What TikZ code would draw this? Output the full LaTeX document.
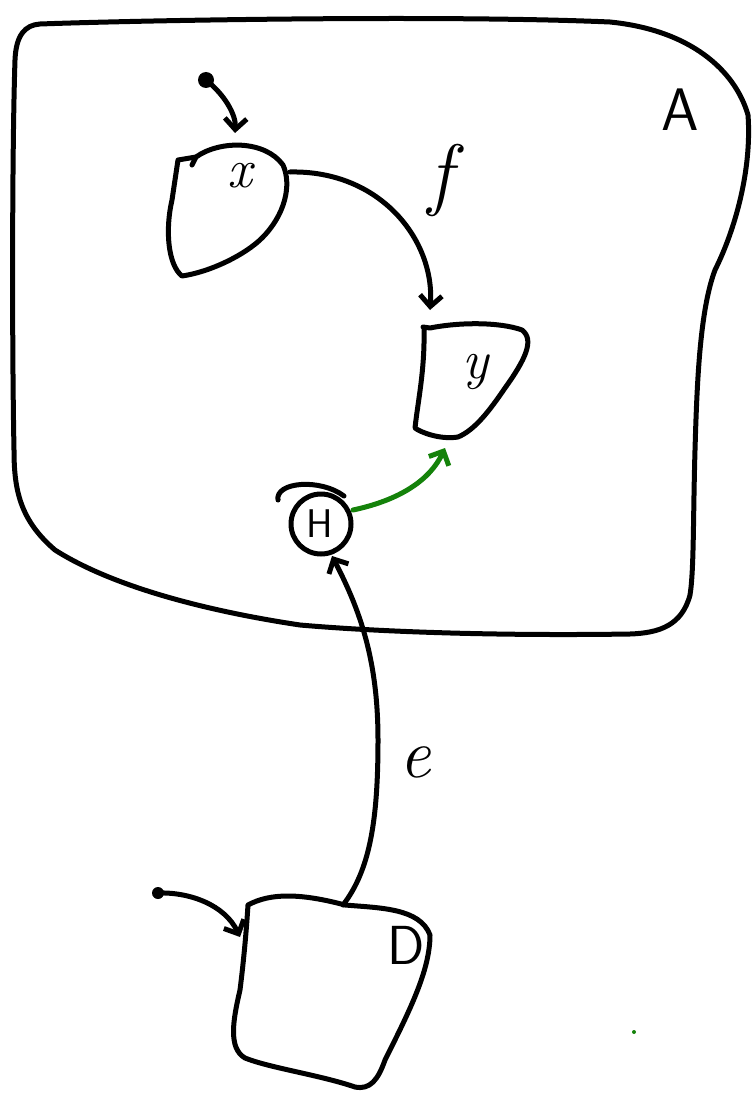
\documentclass[tikz,border=0pt]{standalone}
\usetikzlibrary{arrows.meta}
\definecolor{pengreen}{RGB}{20,130,10}
\begin{document}
\begin{tikzpicture}[x=1pt,y=-1pt,
  pen/.style={line width=5pt,line cap=round,line join=round},
  conn/.style={pen,-{Straight Barb[length=11pt,width=22pt,line width=5pt]}},
  lab/.style={inner sep=0pt,font=#1},
  lab/.default=\fontsize{60}{60}\selectfont]
\path[use as bounding box] (0,0) rectangle (754,1097);
% region A
\draw[pen] (40,24) .. controls (150,20) and (450,15) .. (610,22)
  .. controls (690,30) and (735,70) .. (748,115)
  .. controls (752,170) and (735,230) .. (715,270)
  .. controls (700,310) and (697,380) .. (695,450)
  .. controls (693,520) and (694,570) .. (690,595)
  .. controls (682,625) and (660,633) .. (630,634)
  .. controls (500,636) and (380,632) .. (300,625)
  .. controls (200,610) and (110,585) .. (55,550)
  .. controls (20,520) and (14,490) .. (14,450)
  .. controls (12,350) and (12,150) .. (15,60)
  .. controls (16,35) and (25,25) .. (40,24);
\node[lab] (A) at (680,110) {\sffamily A};
% node x
\draw[pen] (178,160) -- (196,157) .. controls (220,140) and (265,140) .. (283,165)
  .. controls (292,185) and (285,215) .. (262,238)
  .. controls (245,255) and (210,272) .. (182,276)
  .. controls (168,265) and (165,230) .. (172,200) -- (178,160);
\draw[pen] (196,157) -- (192,165);
\node[lab=\fontsize{55}{55}\selectfont\itshape] (x) at (240,176) {x};
\coordinate (xin) at (235,133);
\coordinate (xout) at (290,172);
\coordinate (xsrc) at (206,80);
\fill (xsrc) circle (8pt);
% node y
\draw[pen] (423,327) -- (430,328) .. controls (460,322) and (500,322) .. (522,330)
  .. controls (535,340) and (525,360) .. (505,388)
  .. controls (490,410) and (475,430) .. (458,437)
  .. controls (440,440) and (420,432) .. (415,428)
  .. controls (418,400) and (425,370) .. (424,327);
\node[lab=\fontsize{55}{55}\selectfont\itshape] (y) at (476,372) {y};
\coordinate (yin) at (430,310);
\coordinate (yin2) at (445,448);
% H
\draw[pen] (321,524) circle (30pt);
\draw[pen] (278,500) .. controls (275,482) and (320,478) .. (344,496);
\node[lab=\fontsize{40}{40}\selectfont\sffamily] (H) at (320,524) {H};
\coordinate (Hout) at (353,510);
\coordinate (Hin) at (332,556);
% node D
\draw[pen] (248,905) .. controls (270,893) and (300,893) .. (345,905)
  .. controls (380,908) and (420,908) .. (430,935)
  .. controls (430,970) and (410,1010) .. (385,1060)
  .. controls (378,1080) and (370,1090) .. (355,1087)
  .. controls (320,1075) and (270,1068) .. (245,1058)
  .. controls (228,1048) and (233,1020) .. (240,990)
  .. controls (245,950) and (247,920) .. (248,905);
\node[lab=\fontsize{55}{55}\selectfont\sffamily] (D) at (406,945) {D};
\coordinate (Dout) at (343,905);
\coordinate (Din) at (240,937);
\coordinate (Dsrc) at (158,893);
\fill (Dsrc) circle (6pt);
% connectors
\draw[conn] (xsrc) .. controls (225,95) and (236,115) .. (xin);
\draw[conn] (xout) .. controls (380,170) and (435,240) .. (yin);
\node[lab=\fontsize{80}{80}\selectfont\itshape] (f) at (440,180) {f};
\draw[conn,pengreen] (Hout) .. controls (400,500) and (430,480) .. (yin2);
\draw[conn] (Dout) .. controls (370,870) and (378,820) .. (378,740)
  .. controls (378,660) and (360,610) .. (Hin);
\node[lab=\fontsize{70}{70}\selectfont\itshape] (e) at (415,762) {e};
\draw[conn] (Dsrc) .. controls (190,892) and (225,905) .. (Din);
% green dot
\fill[pengreen] (634,1032) circle (2pt);
\end{tikzpicture}
\end{document}
